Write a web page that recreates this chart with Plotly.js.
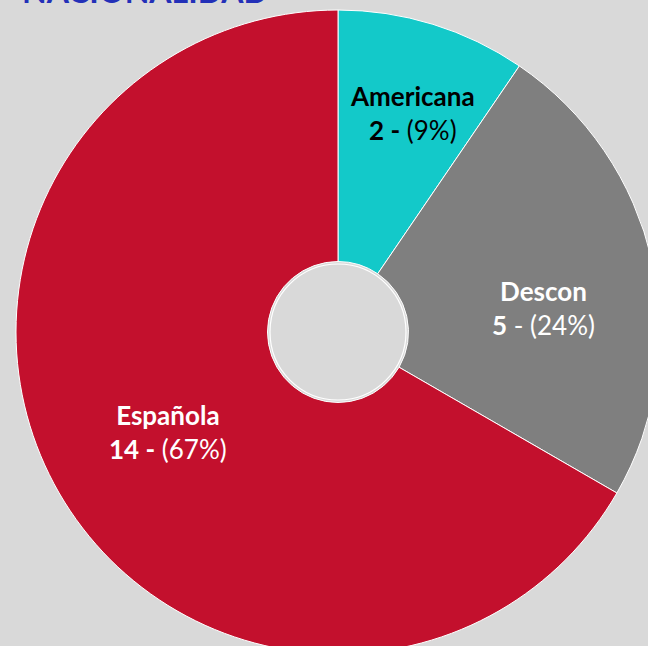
<!DOCTYPE html>
<html>
<head>
<meta charset="utf-8">
<script src="https://cdn.plot.ly/plotly-3.0.1.min.js"></script>
<style>
html,body{margin:0;padding:0;overflow:hidden;background:#d9d9d9;width:648px;height:646px;}
#chart{width:680px;height:670px;}
</style>
</head>
<body>
<div id="chart"></div>
<script>
const categories = ["Americana", "Descon", "Española"];
const counts = [2, 5, 14];
const percentLabels = ["9%", "24%", "67%"];
const sliceColors = ["#13c9c9", "#7f7f7f", "#c3102d"];

const W = 680, H = 670;
const cx = 338, cy = 332, R = 322;
const px = x => x / W;
const py = y => 1 - y / H;

const labelPos = [[413, 113], [543, 308], [168, 432]];
const labelColors = ["#000000", "#ffffff", "#ffffff"];
const labelTexts = [
  "<b>" + categories[0] + "</b><br><b>" + counts[0] + " -</b> (" + percentLabels[0] + ")",
  "<b>" + categories[1] + "</b><br><b>" + counts[1] + "</b> - (" + percentLabels[1] + ")",
  "<b>" + categories[2] + "</b><br><b>" + counts[2] + " -</b> (" + percentLabels[2] + ")"
];

const annotations = categories.map((c, i) => ({
  x: px(labelPos[i][0]), y: py(labelPos[i][1]), xref: "paper", yref: "paper",
  text: labelTexts[i], showarrow: false, align: "center",
  xanchor: "center", yanchor: "middle",
  font: {family: "Lato, 'Open Sans', sans-serif", size: 26, color: labelColors[i]}
}));
annotations.push({
  x: px(20), y: py(12), xref: "paper", yref: "paper", xanchor: "left", yanchor: "bottom",
  text: "<b>NACIONALIDAD</b>", showarrow: false,
  font: {family: "Lato, 'Open Sans', sans-serif", size: 32, color: "#2330b8"}
});

const hr = 70.5;
const trace = {
  type: "pie",
  labels: categories,
  values: counts,
  sort: false,
  direction: "clockwise",
  rotation: 0,
  hole: hr / R,
  textinfo: "none",
  hoverinfo: "label+value+percent",
  marker: {colors: sliceColors, line: {color: "#ffffff", width: 1}},
  domain: {x: [px(cx - R), px(cx + R)], y: [py(cy + R), py(cy - R)]},
  showlegend: false
};

const layout = {
  width: W, height: H,
  margin: {l: 0, r: 0, t: 0, b: 0, pad: 0},
  paper_bgcolor: "#d9d9d9",
  plot_bgcolor: "#d9d9d9",
  showlegend: false,
  annotations: annotations,
  shapes: [
    {type: "circle", xref: "paper", yref: "paper",
     x0: px(cx - hr + 2.5), x1: px(cx + hr - 2.5), y0: py(cy + hr - 2.5), y1: py(cy - hr + 2.5),
     line: {color: "#ffffff", width: 1.2}, fillcolor: "rgba(0,0,0,0)"}
  ]
};

Plotly.newPlot("chart", [trace], layout, {displayModeBar: false, staticPlot: true});
</script>
</body>
</html>
